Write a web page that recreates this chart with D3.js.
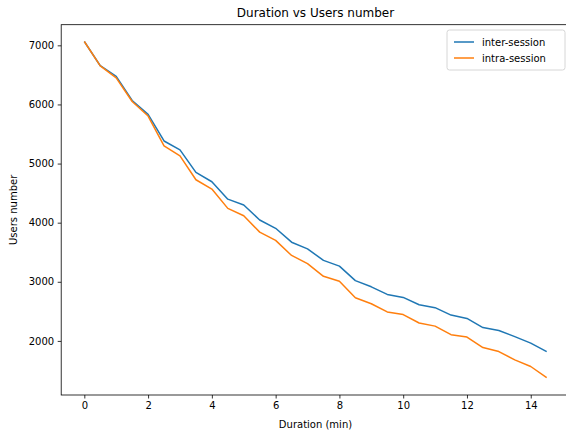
<!DOCTYPE html>
<html>
<head>
<meta charset="utf-8">
<script src="https://cdn.jsdelivr.net/npm/d3@7"></script>
<style>
  body { margin: 0; background: #fff; }
  svg { display: block; font-family: "DejaVu Sans", sans-serif; }
</style>
</head>
<body>
<div id="chart"></div>
<script>
const durations = [0, 0.5, 1, 1.5, 2, 2.5, 3, 3.5, 4, 4.5, 5, 5.5, 6, 6.5, 7, 7.5,
    8, 8.5, 9, 9.5, 10, 10.5, 11, 11.5, 12, 12.5, 13, 13.5, 14, 14.5];
const interSession = [7065, 6655, 6475, 6067, 5832, 5382, 5231, 4850, 4692, 4398, 4300,
    4045, 3905, 3670, 3557, 3362, 3265, 3020, 2915, 2786, 2736, 2612, 2562, 2437,
    2380, 2226, 2176, 2072, 1962, 1818];
const intraSession = [7065, 6652, 6450, 6050, 5804, 5299, 5131, 4726, 4569, 4242, 4118,
    3840, 3700, 3446, 3306, 3093, 3009, 2730, 2628, 2490, 2445, 2303, 2250, 2106,
    2065, 1887, 1820, 1680, 1567, 1380];
const xTicks = [0, 2, 4, 6, 8, 10, 12, 14];
const yTicks = [2000, 3000, 4000, 5000, 6000, 7000];

const width = 566, height = 433;
const margin = { top: 24.7, left: 61.2, plotRight: 569.8, bottom: 395 };

const svg = d3.select("#chart").append("svg")
    .attr("width", width)
    .attr("height", height);

const x = d3.scaleLinear().domain([-0.725, 15.225]).range([margin.left, margin.plotRight]);
const yMin = 1085, yMax = 7349;
const y = d3.scaleLinear().domain([yMin, yMax]).range([margin.bottom, margin.top]);

// axes
const xAxis = svg.append("g")
    .attr("transform", `translate(0,${margin.bottom})`)
    .call(d3.axisBottom(x).tickValues(xTicks).tickSize(3.5).tickPadding(3.5).tickFormat(d3.format("d")));
const yAxis = svg.append("g")
    .attr("transform", `translate(${margin.left},0)`)
    .call(d3.axisLeft(y).tickValues(yTicks).tickSize(3.5).tickPadding(3.5).tickFormat(d3.format("d")));

[xAxis, yAxis].forEach(a => {
    a.select(".domain").remove();
    a.selectAll(".tick line").attr("stroke", "#000").attr("stroke-width", 0.8);
    a.selectAll(".tick text").attr("fill", "#000").style("font-size", "10px")
        .style("font-family", "DejaVu Sans, sans-serif");
});

// frame
svg.append("rect")
    .attr("x", margin.left)
    .attr("y", margin.top)
    .attr("width", margin.plotRight - margin.left)
    .attr("height", margin.bottom - margin.top)
    .attr("fill", "none")
    .attr("stroke", "#000")
    .attr("stroke-width", 0.8);

// lines
const line = vals => d3.line()
    .x((d, i) => x(durations[i]))
    .y(d => y(d))(vals);

svg.append("path")
    .attr("d", line(interSession))
    .attr("fill", "none")
    .attr("stroke", "#1f77b4")
    .attr("stroke-width", 1.5)
    .attr("stroke-linejoin", "round");

svg.append("path")
    .attr("d", line(intraSession))
    .attr("fill", "none")
    .attr("stroke", "#ff7f0e")
    .attr("stroke-width", 1.5)
    .attr("stroke-linejoin", "round");

// title and labels
svg.append("text")
    .attr("x", (margin.left + margin.plotRight) / 2)
    .attr("y", 17)
    .attr("text-anchor", "middle")
    .style("font-size", "12px")
    .text("Duration vs Users number");

svg.append("text")
    .attr("x", (margin.left + margin.plotRight) / 2)
    .attr("y", 428)
    .attr("text-anchor", "middle")
    .style("font-size", "10px")
    .text("Duration (min)");

svg.append("text")
    .attr("transform", `translate(17,${(margin.top + margin.bottom) / 2}) rotate(-90)`)
    .attr("text-anchor", "middle")
    .style("font-size", "10px")
    .text("Users number");

// legend
const legend = svg.append("g").attr("transform", "translate(447,30)");
legend.append("rect")
    .attr("width", 118)
    .attr("height", 40)
    .attr("rx", 2.5)
    .attr("fill", "#fff")
    .attr("fill-opacity", 0.8)
    .attr("stroke", "#ccc")
    .attr("stroke-width", 0.8);

const series = [
    { name: "inter-session", color: "#1f77b4" },
    { name: "intra-session", color: "#ff7f0e" }
];
series.forEach((s, i) => {
    const gy = 12 + i * 16;
    legend.append("line")
        .attr("x1", 7).attr("x2", 27)
        .attr("y1", gy).attr("y2", gy)
        .attr("stroke", s.color)
        .attr("stroke-width", 1.5);
    legend.append("text")
        .attr("x", 35)
        .attr("y", gy)
        .attr("dy", "0.35em")
        .style("font-size", "10px")
        .text(s.name);
});
</script>
</body>
</html>
